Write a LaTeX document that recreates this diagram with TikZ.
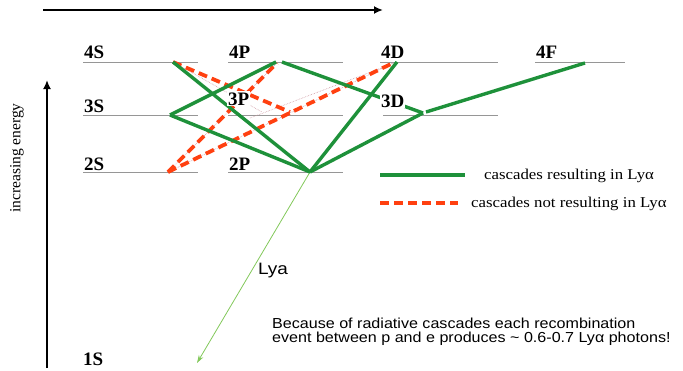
\documentclass[tikz,border=0pt]{standalone}
\usepackage{fontspec}
\setmainfont{Liberation Serif}
\newfontfamily\sansf{Liberation Sans}
\usetikzlibrary{arrows.meta}
\definecolor{cgreen}{RGB}{30,145,58}
\definecolor{cred}{RGB}{255,64,16}
\definecolor{cgray}{RGB}{150,150,150}
\definecolor{cpink}{RGB}{205,150,160}
\definecolor{clya}{RGB}{130,200,90}
\newcommand{\hs}[2][1.15]{\scalebox{#1}[1]{#2}}
\begin{document}
\begin{tikzpicture}[x=1pt,y=-1pt,
  level/.style={draw=cgray, line width=0.9pt},
  lab/.style={font=\fontsize{19}{19}\selectfont\bfseries, anchor=base west, inner sep=1pt, fill=white},
  good/.style={draw=cgreen, line width=3.4pt},
  bad/.style={draw=cred, line width=3.8pt, dash pattern=on 9pt off 5pt},
  guide/.style={draw=cpink, line width=0.6pt, densely dotted},
  axis/.style={draw=black, line width=1.8pt, -{Latex[length=9pt,width=8pt]}},
  lyarrow/.style={draw=clya, line width=0.8pt, -{Stealth[length=8pt,width=5pt]}},
  legtext/.style={font=\fontsize{15}{15}\selectfont, anchor=west, inner sep=0pt},
]
\useasboundingbox (0,0) rectangle (683,370);

% axes
\coordinate (ta1) at (43,10);
\coordinate (ta2) at (383,10);
\draw[axis] (ta1) -- (ta2);
\coordinate (la1) at (47,368);
\coordinate (la2) at (47,80);
\draw[axis] (la1) -- (la2);
\node[rotate=90, font=\fontsize{15.5}{15.5}\selectfont] (ie) at (17,158) {increasing energy};

% level lines
\foreach \n/\a/\b/\y in {l4S/83/198/62, l4P/228/343/62, l4D/380/498/62, l4F/535/625/62,
                         l3S/83/198/115, l3P/228/343/115, l3D/383/498/115,
                         l2S/83/198/172, l2P/228/343/172}{
  \coordinate (\n a) at (\a,\y);
  \coordinate (\n b) at (\b,\y);
  \draw[level] (\n a) -- (\n b);
}

% transition points
\coordinate (p4S) at (173,62);
\coordinate (p3S) at (170,115);
\coordinate (p2S) at (168,172);
\coordinate (p4Pa) at (276,62);
\coordinate (p4Pb) at (282,62);
\coordinate (p4Pr) at (277,63);
\coordinate (p3Pr) at (290,112);
\coordinate (p2P) at (310,172);
\coordinate (p4D) at (397,62);
\coordinate (p4Dr) at (393,63);
\coordinate (p3D) at (423,113);
\coordinate (p3Db) at (426,112);
\coordinate (p4F) at (585,63);
\coordinate (p1S) at (197,363);
\coordinate (g1) at (262,112);
\coordinate (g2) at (250,118);

% Ly-alpha arrow
\draw[lyarrow] (p2P) -- (p1S);

% faint guide lines
\draw[guide] (p4S) -- (g1);
\draw[guide] (p2S) -- (p4Pr);
\draw[guide] (p2S) -- (p4Dr);
\draw[guide] (g2) -- (p4D);

% cascades not resulting in Ly-alpha
\draw[bad] (p4S) -- (p3Pr);
\draw[bad] (p2S) -- (p4Pr);
\draw[bad] (p2S) -- (p4Dr);

% cascades resulting in Ly-alpha
\draw[good] (p4S) -- (p2P);
\draw[good] (p3S) -- (p4Pa);
\draw[good] (p3S) -- (p2P);
\draw[good] (p4Pb) -- (p3D);
\draw[good] (p4D) -- (p2P);
\draw[good] (p2P) -- (p3D);
\draw[good] (p3Db) -- (p4F);

% level labels
\node[lab] (t4S) at (83,58) {4S};
\node[lab] (t4P) at (228,58) {4P};
\node[lab] (t4D) at (380,58) {4D};
\node[lab] (t4F) at (535,58) {4F};
\node[lab] (t3S) at (83,112) {3S};
\node[lab] (t3P) at (227,105) {3P};
\node[lab] (t3D) at (380,107) {3D};
\node[lab] (t2S) at (83,170) {2S};
\node[lab] (t2P) at (228,170) {2P};
\node[lab] (t1S) at (82,365) {1S};

% legend
\coordinate (lg1) at (380,175);
\coordinate (lg2) at (465,175);
\draw[good] (lg1) -- (lg2);
\node[legtext] (lt1) at (484,176) {\hs[1.12]{cascades resulting in Lyα}};
\coordinate (lr1) at (380,203);
\coordinate (lr2) at (458,203);
\draw[bad] (lr1) -- (lr2);
\node[legtext] (lt2) at (471,204) {\hs[1.12]{cascades not resulting in Lyα}};

% Lya label
\node[font=\sansf\fontsize{16.5}{16.5}\selectfont] (lya) at (273,271) {\hs{Lya}};

% bottom note
\node[font=\sansf\fontsize{14.5}{14}\selectfont, anchor=base west, align=left, inner sep=0pt] (note) at (272,342.7)
  {\hs[1.11]{Because of radiative cascades each recombination}\\
   \hs[1.11]{event between p and e produces \textasciitilde{} 0.6-0.7 Lyα photons!}};
\end{tikzpicture}
\end{document}
